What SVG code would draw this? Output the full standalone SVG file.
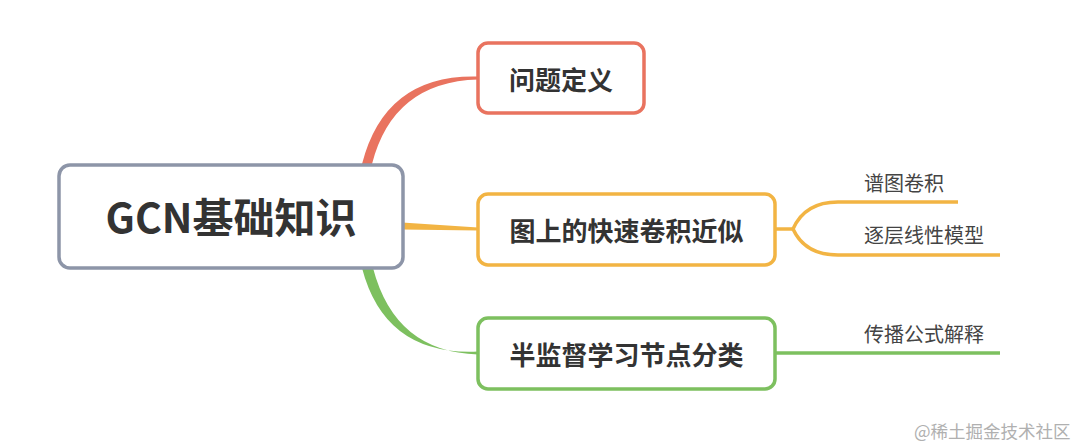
<svg xmlns="http://www.w3.org/2000/svg" width="1080" height="447" viewBox="0 0 1080 447">
  <style>
    .node { fill: #ffffff; stroke-width: 3.5; }
    .t { font-family: "Noto Sans CJK SC", "Noto Sans", sans-serif; fill: #333333; text-anchor: middle; dominant-baseline: central; }
    .main { font-size: 41px; font-weight: 700; }
    .lvl1 { font-size: 26px; font-weight: 700; }
    .sub { font-family: "Noto Sans CJK SC", "Noto Sans", sans-serif; font-size: 20px; fill: #444444; dominant-baseline: central; }
    .line { fill: none; stroke-width: 3.5; stroke-linecap: butt; }
    .wm { font-family: "Noto Sans CJK SC", "Noto Sans", sans-serif; font-size: 17.5px; fill: #b0b0b0; }
  </style>
  <rect width="1080" height="447" fill="#ffffff"/>
  <g id="connectors">
    <path d="M362,164 Q385,74 478,76.5 L478,79.5 Q393,82 372,164 Z" fill="#e9735f"/>
    <path d="M402,222.5 L478,227.5 L478,230.5 L402,229.5 Z" fill="#f2b443"/>
    <path d="M362,268 Q385,356 478,351.5 L478,354.5 Q395,352 373,268 Z" fill="#7dc05f"/>
    <path class="line" stroke="#f2b443" d="M775,229 H794"/>
    <path class="line" stroke="#f2b443" d="M793,229 Q805,202 838,202 H958"/>
    <path class="line" stroke="#f2b443" d="M793,229 Q805,255 838,255 H1000"/>
    <path class="line" stroke="#7dc05f" d="M775,353 H1000"/>
  </g>
  <g id="node-main">
    <rect class="node" x="59" y="165" width="344" height="103" rx="11" stroke="#8d95a8"/>
    <text class="t main" x="231" y="215">GCN基础知识</text>
  </g>
  <g id="node-1">
    <rect class="node" x="478" y="43" width="166" height="70" rx="10" stroke="#e9735f"/>
    <text class="t lvl1" x="561" y="78">问题定义</text>
  </g>
  <g id="node-2">
    <rect class="node" x="478" y="194" width="297" height="71" rx="10" stroke="#f2b443"/>
    <text class="t lvl1" x="626.5" y="229.5">图上的快速卷积近似</text>
  </g>
  <g id="node-3">
    <rect class="node" x="478" y="318" width="297" height="71" rx="10" stroke="#7dc05f"/>
    <text class="t lvl1" x="626.5" y="353.5">半监督学习节点分类</text>
  </g>
  <g id="node-2-1"><text class="sub" x="864" y="182">谱图卷积</text></g>
  <g id="node-2-2"><text class="sub" x="864" y="234">逐层线性模型</text></g>
  <g id="node-3-1"><text class="sub" x="864" y="333">传播公式解释</text></g>
  <text class="wm" x="914" y="438">@稀土掘金技术社区</text>
</svg>
